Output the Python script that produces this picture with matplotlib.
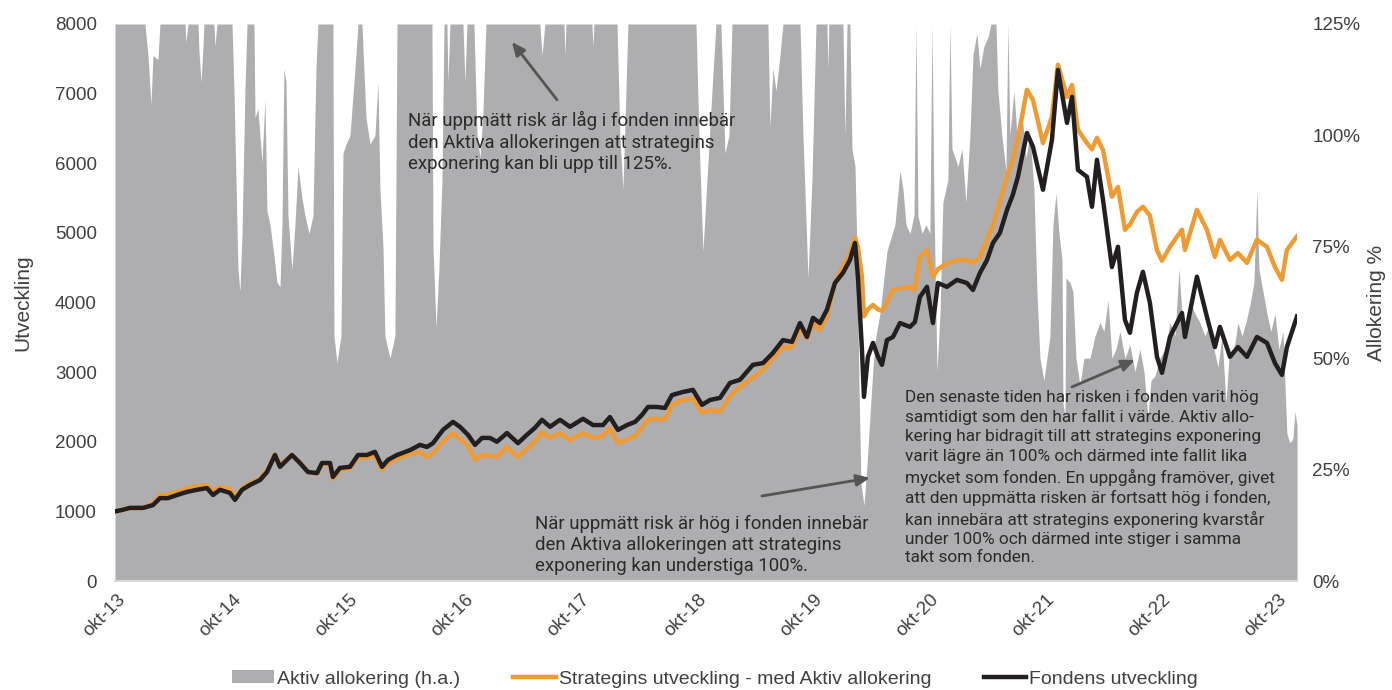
import matplotlib
matplotlib.use("Agg")
import matplotlib.pyplot as plt
from matplotlib.patches import Patch

# ---------------- data (decimal years) ----------------
dates = [2013.733, 2013.793, 2013.862, 2013.974, 2014.060, 2014.120, 2014.189, 2014.267, 2014.353, 2014.439,
         2014.525, 2014.577, 2014.637, 2014.723, 2014.766, 2014.827, 2014.896, 2014.982, 2015.042, 2015.111,
         2015.154, 2015.257, 2015.326, 2015.395, 2015.473, 2015.516, 2015.585, 2015.610, 2015.671, 2015.757,
         2015.826, 2015.903, 2015.972, 2016.033, 2016.084, 2016.162, 2016.274, 2016.360, 2016.420, 2016.472,
         2016.558, 2016.644, 2016.704, 2016.773, 2016.834, 2016.894, 2016.963, 2017.023, 2017.109, 2017.204,
         2017.281, 2017.350, 2017.411, 2017.480, 2017.566, 2017.652, 2017.764, 2017.850, 2017.936, 2017.996,
         2018.065, 2018.143, 2018.212, 2018.272, 2018.324, 2018.401, 2018.470, 2018.530, 2018.625, 2018.711,
         2018.789, 2018.858, 2018.944, 2019.030, 2019.116, 2019.228, 2019.314, 2019.400, 2019.486, 2019.564,
         2019.633, 2019.693, 2019.745, 2019.805, 2019.865, 2019.934, 2020.003, 2020.063, 2020.107, 2020.132,
         2020.167, 2020.184, 2020.218, 2020.262, 2020.305, 2020.339, 2020.382, 2020.434, 2020.494, 2020.580,
         2020.623, 2020.666, 2020.727, 2020.778, 2020.821, 2020.899, 2020.985, 2021.071, 2021.123, 2021.183,
         2021.244, 2021.295, 2021.355, 2021.416, 2021.467, 2021.510, 2021.588, 2021.640, 2021.726, 2021.803,
         2021.855, 2021.933, 2021.976, 2022.027, 2022.105, 2022.148, 2022.191, 2022.243, 2022.320, 2022.372,
         2022.432, 2022.475, 2022.535, 2022.587, 2022.647, 2022.708, 2022.751, 2022.820, 2022.923, 2022.949,
         2023.052, 2023.138, 2023.207, 2023.250, 2023.337, 2023.405, 2023.483, 2023.569, 2023.655, 2023.724,
         2023.784, 2023.827, 2023.914]

fund = [1000, 1020, 1050, 1050, 1090, 1190, 1190, 1235, 1280, 1310,
        1335, 1235, 1310, 1265, 1165, 1310, 1380, 1450, 1565, 1810,
        1640, 1810, 1695, 1565, 1550, 1695, 1695, 1495, 1625, 1640,
        1810, 1810, 1855, 1640, 1740, 1810, 1880, 1955, 1925, 1980,
        2170, 2285, 2215, 2100, 1955, 2055, 2055, 2000, 2125, 1980,
        2100, 2200, 2315, 2215, 2315, 2215, 2330, 2240, 2240, 2355,
        2170, 2240, 2285, 2385, 2500, 2500, 2485, 2670, 2715, 2745,
        2530, 2600, 2630, 2845, 2890, 3105, 3130, 3275, 3460, 3435,
        3705, 3505, 3780, 3705, 3895, 4280, 4425, 4610, 4855, 4370,
        3320, 2645, 3220, 3420, 3220, 3105, 3460, 3505, 3705, 3650,
        3720, 4080, 4225, 3705, 4280, 4225, 4325, 4280, 4180, 4425,
        4610, 4855, 5000, 5330, 5550, 5805, 6435, 6235, 5620, 6335,
        7340, 6580, 6955, 5905, 5805, 5375, 6050, 5475, 4510, 4800,
        3750, 3565, 4140, 4440, 3995, 3220, 2990, 3505, 3850, 3505,
        4370, 3795, 3360, 3650, 3220, 3360, 3220, 3505, 3420, 3130,
        2960, 3360, 3800]

strategy = [1000, 1020, 1060, 1060, 1110, 1230, 1240, 1280, 1330, 1360,
            1370, 1290, 1350, 1320, 1200, 1330, 1400, 1470, 1580, 1820,
            1660, 1810, 1700, 1570, 1540, 1680, 1670, 1470, 1600, 1620,
            1770, 1770, 1810, 1600, 1690, 1760, 1820, 1855, 1780, 1830,
            2000, 2125, 2040, 1950, 1740, 1810, 1800, 1780, 1925, 1780,
            1900, 2000, 2140, 2055, 2125, 2025, 2125, 2055, 2080, 2200,
            1980, 2030, 2080, 2200, 2320, 2330, 2320, 2530, 2600, 2620,
            2415, 2455, 2430, 2650, 2790, 2920, 3030, 3200, 3360, 3350,
            3650, 3480, 3700, 3605, 3800, 4280, 4510, 4700, 4930, 4800,
            4370, 3800, 3900, 3965, 3900, 3880, 4000, 4180, 4200, 4225,
            4180, 4655, 4755, 4370, 4480, 4560, 4610, 4610, 4570, 4650,
            4900, 5100, 5450, 5800, 6050, 6350, 7055, 6910, 6290, 6665,
            7415, 6950, 7125, 6480, 6290, 6200, 6365, 6190, 5520, 5660,
            5045, 5120, 5300, 5375, 5250, 4750, 4600, 4800, 5045, 4755,
            5330, 5045, 4655, 4900, 4610, 4710, 4570, 4900, 4800, 4510,
            4325, 4755, 4950]

alloc_dates = [2013.733, 2013.991, 2014.017, 2014.043, 2014.060, 2014.103, 2014.120, 2014.336, 2014.344, 2014.362,
               2014.448, 2014.456, 2014.474, 2014.491, 2014.499, 2014.585, 2014.594, 2014.611, 2014.741, 2014.758,
               2014.775, 2014.792, 2014.809, 2014.827, 2014.852, 2014.870, 2014.930, 2014.939, 2014.964, 2014.999,
               2015.025, 2015.042, 2015.068, 2015.102, 2015.128, 2015.154, 2015.171, 2015.188, 2015.206, 2015.223,
               2015.257, 2015.283, 2015.309, 2015.343, 2015.369, 2015.404, 2015.438, 2015.464, 2015.481, 2015.610,
               2015.619, 2015.645, 2015.679, 2015.697, 2015.722, 2015.757, 2015.800, 2015.826, 2015.860, 2015.895,
               2015.929, 2015.972, 2015.998, 2016.015, 2016.041, 2016.058, 2016.101, 2016.144, 2016.162, 2016.463,
               2016.472, 2016.498, 2016.523, 2016.549, 2016.567, 2016.592, 2016.601, 2016.618, 2016.730, 2016.747,
               2016.765, 2016.825, 2016.851, 2016.877, 2016.902, 2016.928, 2017.393, 2017.411, 2017.436, 2017.600,
               2017.609, 2017.617, 2017.841, 2017.850, 2017.858, 2018.057, 2018.082, 2018.108, 2018.134, 2018.151,
               2018.737, 2018.763, 2018.797, 2018.832, 2018.875, 2018.909, 2018.952, 2018.987, 2019.021, 2019.047,
               2019.357, 2019.374, 2019.400, 2019.426, 2019.461, 2019.486, 2019.633, 2019.659, 2019.702, 2019.736,
               2019.771, 2019.865, 2019.874, 2019.882, 2020.003, 2020.020, 2020.038, 2020.063, 2020.081, 2020.107,
               2020.124, 2020.141, 2020.158, 2020.184, 2020.210, 2020.236, 2020.262, 2020.287, 2020.322, 2020.382,
               2020.451, 2020.494, 2020.520, 2020.546, 2020.580, 2020.615, 2020.632, 2020.649, 2020.684, 2020.718,
               2020.752, 2020.770, 2020.787, 2020.813, 2020.839, 2020.864, 2020.907, 2020.925, 2020.942, 2020.994,
               2021.028, 2021.062, 2021.097, 2021.123, 2021.157, 2021.183, 2021.217, 2021.252, 2021.278, 2021.321,
               2021.338, 2021.372, 2021.407, 2021.424, 2021.441, 2021.476, 2021.502, 2021.545, 2021.579, 2021.614,
               2021.648, 2021.674, 2021.700, 2021.734, 2021.786, 2021.812, 2021.838, 2021.864, 2021.890, 2021.898,
               2021.915, 2021.924, 2021.958, 2021.984, 2022.010, 2022.044, 2022.079, 2022.131, 2022.174, 2022.217,
               2022.251, 2022.286, 2022.320, 2022.354, 2022.389, 2022.432, 2022.475, 2022.518, 2022.561, 2022.596,
               2022.630, 2022.656, 2022.690, 2022.733, 2022.777, 2022.820, 2022.863, 2022.897, 2022.923, 2022.957,
               2022.992, 2023.035, 2023.078, 2023.121, 2023.164, 2023.199, 2023.233, 2023.268, 2023.302, 2023.328,
               2023.371, 2023.405, 2023.440, 2023.474, 2023.509, 2023.543, 2023.569, 2023.586, 2023.621, 2023.655,
               2023.689, 2023.724, 2023.758, 2023.793, 2023.827, 2023.853, 2023.879, 2023.896, 2023.914]

alloc = [125, 125, 118, 107, 118, 117, 125, 125, 121, 125,
         125, 119, 112, 120, 125, 125, 120, 125, 125, 110,
         90, 70, 65, 78, 110, 125, 125, 104, 106, 94,
         108, 83, 80, 73, 67, 66, 80, 115, 112, 82,
         70, 80, 93, 86, 82, 78, 82, 115, 125, 125,
         55, 49, 55, 96, 98, 100, 115, 125, 125, 104,
         98, 100, 112, 88, 75, 55, 50, 55, 125, 125,
         75, 57, 70, 90, 125, 125, 112, 125, 125, 112,
         125, 125, 100, 95, 105, 125, 125, 118, 125, 125,
         118, 125, 125, 120, 125, 125, 100, 88, 110, 125,
         125, 100, 74, 90, 110, 125, 125, 96, 100, 125,
         125, 102, 115, 110, 118, 125, 125, 100, 68, 90,
         125, 125, 115, 125, 125, 100, 125, 125, 97, 93,
         74, 44, 22, 17, 26, 37, 48, 55, 60, 74,
         80, 92, 88, 80, 78, 82, 125, 82, 78, 80,
         78, 125, 85, 47, 60, 85, 90, 125, 97, 93,
         97, 85, 100, 118, 123, 115, 120, 122, 125, 125,
         110, 100, 92, 125, 100, 110, 100, 105, 95, 100,
         88, 65, 50, 45, 55, 80, 87, 78, 72, 40,
         37, 68, 67, 65, 50, 44, 50, 50, 55, 58,
         56, 63, 50, 52, 56, 50, 53, 47, 52, 47,
         37, 45, 46, 50, 52, 58, 55, 70, 60, 58,
         63, 60, 58, 55, 58, 52, 48, 55, 40, 50,
         52, 58, 55, 58, 62, 67, 88, 70, 65, 60,
         56, 60, 52, 56, 33, 31, 32, 38, 35]

tick_years = [2013.75, 2014.75, 2015.75, 2016.75, 2017.75, 2018.75, 2019.75, 2020.75, 2021.75, 2022.75, 2023.75]
tick_labels = ["okt-13", "okt-14", "okt-15", "okt-16", "okt-17", "okt-18", "okt-19", "okt-20", "okt-21", "okt-22", "okt-23"]
left_ticks = [0, 1000, 2000, 3000, 4000, 5000, 6000, 7000, 8000]
right_ticks = [0, 25, 50, 75, 100, 125]

series_names = ["Aktiv allokering (h.a.)", "Strategins utveckling - med Aktiv allokering", "Fondens utveckling"]

# ---------------- style ----------------
GREY = "#AEADB0"
ORANGE = "#EE9B34"
BLACK = "#231F20"
TXT = "#404040"
ANN = "#2B2B2B"
ARROW = "#555555"

plt.rcParams["font.family"] = ["Liberation Sans", "DejaVu Sans"]

W, H = 1392, 690
fig = plt.figure(figsize=(W / 100, H / 100), dpi=100)
L, R, B, T = 115, 1297, 581, 24
ax = fig.add_axes([L / W, 1 - B / H, (R - L) / W, (B - T) / H])
ax2 = ax.twinx()

ax2.fill_between(alloc_dates, 0, alloc, color=GREY, linewidth=0, zorder=1,
                 label=series_names[0])
ax2.set_ylim(0, 125)
ax2.set_yticks(right_ticks)
ax2.set_yticklabels([f"{v}%" for v in right_ticks])

ax.set_zorder(ax2.get_zorder() + 1)
ax.patch.set_visible(False)

l1, = ax.plot(dates, strategy, color=ORANGE, lw=3.2, solid_joinstyle="round",
              label=series_names[1], zorder=3)
l2, = ax.plot(dates, fund, color=BLACK, lw=3.2, solid_joinstyle="round",
              label=series_names[2], zorder=4)

ax.set_xlim(2013.733, 2023.914)
ax.set_ylim(0, 8000)
ax.set_yticks(left_ticks)
ax.set_yticklabels([str(v) for v in left_ticks])
ax.set_xticks(tick_years)
ax.set_xticklabels(tick_labels, rotation=45, ha="right", rotation_mode="anchor")

for a in (ax, ax2):
    for s in a.spines.values():
        s.set_visible(False)
    a.tick_params(length=0, labelsize=13.5, labelcolor=TXT)
ax.spines["bottom"].set_visible(True)
ax.spines["bottom"].set_color("#D9D9D9")
ax.spines["bottom"].set_linewidth(1.5)
ax.tick_params(axis="y", pad=13)
ax.tick_params(axis="x", pad=7)
ax2.tick_params(axis="y", pad=11)

ax.set_ylabel("Utveckling", fontsize=15, color=TXT, labelpad=16)
ax2.set_ylabel("Allokering %", fontsize=15, color=TXT, labelpad=5)

# ---------------- annotations ----------------
afont = dict(family=["Roboto", "DejaVu Sans"], fontsize=13.4, color=ANN, linespacing=1.24,
             va="top", ha="left", zorder=6)
ax.text(2016.256, 6747,
        "När uppmätt risk är låg i fonden innebär\nden Aktiva allokeringen att strategins\nexponering kan bli upp till 125%.",
        **afont)
ax.text(2017.35, 955,
        "När uppmätt risk är hög i fonden innebär\nden Aktiva allokeringen att strategins\nexponering kan understiga 100%.",
        **afont)
ax.text(2020.537, 2755,
        "Den senaste tiden har risken i fonden varit hög\nsamtidigt som den har fallit i värde. Aktiv allo-\n"
        "kering har bidragit till att strategins exponering\nvarit lägre än 100% och därmed inte fallit lika\n"
        "mycket som fonden. En uppgång framöver, givet\natt den uppmätta risken är fortsatt hög i fonden,\n"
        "kan innebära att strategins exponering kvarstår\nunder 100% och därmed inte stiger i samma\ntakt som fonden.",
        **{**afont, "fontsize": 12.4, "linespacing": 1.32})

aprops = dict(arrowstyle="-|>,head_length=0.8,head_width=0.35", color=ARROW, lw=2.0, shrinkA=0, shrinkB=0)
ax.annotate("", xy=(2017.152, 7744), xytext=(2017.54, 6911), arrowprops=aprops, zorder=6)
ax.annotate("", xy=(2020.236, 1480), xytext=(2019.305, 1221), arrowprops=aprops, zorder=6)
ax.annotate("", xy=(2022.518, 3175), xytext=(2021.976, 2787), arrowprops=aprops, zorder=6)

# ---------------- legend ----------------
handles = [Patch(facecolor=GREY, edgecolor="none"), l1, l2]
leg = fig.legend(handles, series_names, loc="center", bbox_to_anchor=(0.5135, 1 - 679 / H),
                 ncol=3, frameon=False, fontsize=14, handlelength=2.2, handleheight=0.6,
                 handletextpad=0.15, columnspacing=2.7)
for t in leg.get_texts():
    t.set_color(TXT)

fig.savefig("out.png", dpi=100)
